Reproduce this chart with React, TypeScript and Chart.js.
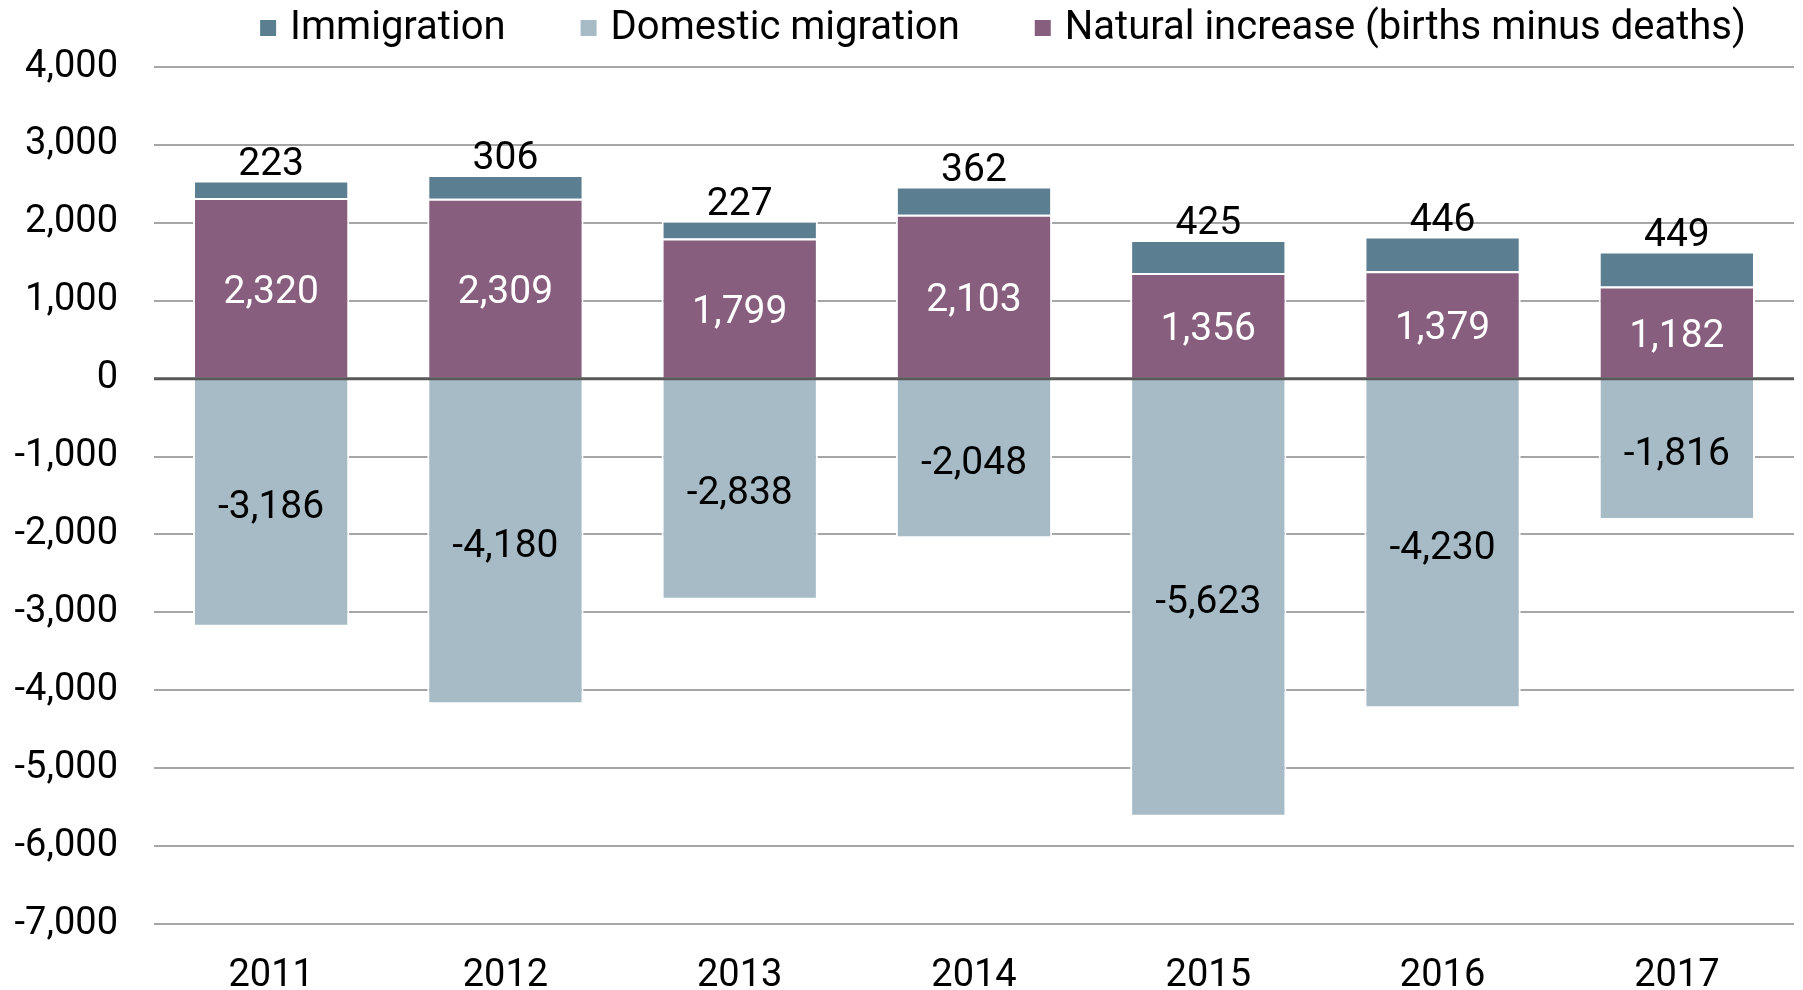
import React, { useEffect, useRef } from "react";
import { Chart, registerables } from "chart.js";

Chart.register(...registerables);

const years = ["2011", "2012", "2013", "2014", "2015", "2016", "2017"];
const immigration = [223, 306, 227, 362, 425, 446, 449];
const domesticMigration = [-3186, -4180, -2838, -2048, -5623, -4230, -1816];
const naturalIncrease = [2320, 2309, 1799, 2103, 1356, 1379, 1182];
const seriesNames = ["Immigration", "Domestic migration", "Natural increase (births minus deaths)"];

const COLOR_IMM = "#5B7E91";
const COLOR_DOM = "#A6BBC6";
const COLOR_NAT = "#875E7D";
const FONT = "Roboto";

const fmt = (v: number) => v.toLocaleString("en-US");

const legendPlugin = {
  id: "customLegend",
  afterDraw(chart: any) {
    const ctx = chart.ctx;
    const items = [
      { text: seriesNames[0], color: COLOR_IMM },
      { text: seriesNames[1], color: COLOR_DOM },
      { text: seriesNames[2], color: COLOR_NAT },
    ];
    ctx.save();
    ctx.font = `40px ${FONT}`;
    const box = 16;
    const boxGap = 14;
    const itemGap = 75;
    const widths = items.map((it) => box + boxGap + ctx.measureText(it.text).width);
    const total = widths.reduce((a, b) => a + b, 0) + itemGap * (items.length - 1);
    let x = 1003 - total / 2;
    const cy = 28;
    items.forEach((it, i) => {
      ctx.fillStyle = it.color;
      ctx.fillRect(x, cy - box / 2, box, box);
      ctx.fillStyle = "#000";
      ctx.textBaseline = "middle";
      ctx.textAlign = "left";
      ctx.fillText(it.text, x + box + boxGap, cy + 1);
      x += widths[i] + itemGap;
    });
    ctx.restore();
  },
};

const zeroLineAndLabels = {
  id: "zeroLineAndLabels",
  afterDatasetsDraw(chart: any) {
    const ctx = chart.ctx;
    const area = chart.chartArea;
    const y0 = chart.scales.y.getPixelForValue(0);
    ctx.save();
    ctx.strokeStyle = "#595959";
    ctx.lineWidth = 3;
    ctx.beginPath();
    ctx.moveTo(area.left, y0);
    ctx.lineTo(area.right, y0);
    ctx.stroke();

    ctx.font = `39px ${FONT}`;
    ctx.textAlign = "center";
    chart.data.datasets.forEach((ds: any, di: number) => {
      const meta = chart.getDatasetMeta(di);
      meta.data.forEach((el: any, i: number) => {
        const v = ds.data[i];
        const text = fmt(v);
        if (ds.label === seriesNames[0]) {
          ctx.fillStyle = "#000";
          ctx.textBaseline = "bottom";
          ctx.fillText(text, el.x, el.y + 4);
        } else {
          ctx.fillStyle = ds.label === seriesNames[2] ? "#fff" : "#000";
          ctx.textBaseline = "middle";
          ctx.fillText(text, el.x, (el.y + el.base) / 2 + 5);
        }
      });
    });
    ctx.restore();
  },
};

export default function App() {
  const ref = useRef<HTMLCanvasElement>(null);
  useEffect(() => {
    document.body.style.margin = "0";
    const chart = new Chart(ref.current as HTMLCanvasElement, {
      type: "bar",
      data: {
        labels: years,
        datasets: [
          {
            label: seriesNames[2],
            data: naturalIncrease,
            backgroundColor: COLOR_NAT,
            borderColor: "#fff",
            borderWidth: 2,
          },
          {
            label: seriesNames[1],
            data: domesticMigration,
            backgroundColor: COLOR_DOM,
            borderColor: "#fff",
            borderWidth: 2,
          },
          {
            label: seriesNames[0],
            data: immigration,
            backgroundColor: COLOR_IMM,
            borderColor: "#fff",
            borderWidth: 2,
          },
        ],
      },
      options: {
        responsive: false,
        animation: false,
        devicePixelRatio: 1,
        layout: { padding: { top: 67, left: 0, right: 9, bottom: 0 } },
        datasets: { bar: { categoryPercentage: 0.667, barPercentage: 1 } },
        plugins: { legend: { display: false }, tooltip: { enabled: false } },
        scales: {
          x: {
            stacked: true,
            grid: { display: false, drawTicks: false },
            border: { display: false },
            ticks: { color: "#000", font: { family: FONT, size: 38 }, padding: 30 },
            afterFit: (s: any) => {
              s.height = 66;
            },
          },
          y: {
            stacked: true,
            min: -7000,
            max: 4000,
            border: { display: false },
            grid: {
              drawTicks: false,
              color: (c: any) => (c.tick && c.tick.value === 0 ? "rgba(0,0,0,0)" : "#A6A6A6"),
              lineWidth: 2,
            },
            ticks: {
              stepSize: 1000,
              color: "#000",
              padding: 36,
              font: { family: FONT, size: 38 },
              callback: (v: any) => fmt(Number(v)),
            },
            afterFit: (s: any) => {
              s.width = 154;
            },
          },
        },
      },
      plugins: [legendPlugin, zeroLineAndLabels],
    });
    return () => chart.destroy();
  }, []);
  return (
    <div style={{ width: 1803, height: 990 }}>
      <canvas ref={ref} width={1803} height={990} />
    </div>
  );
}
